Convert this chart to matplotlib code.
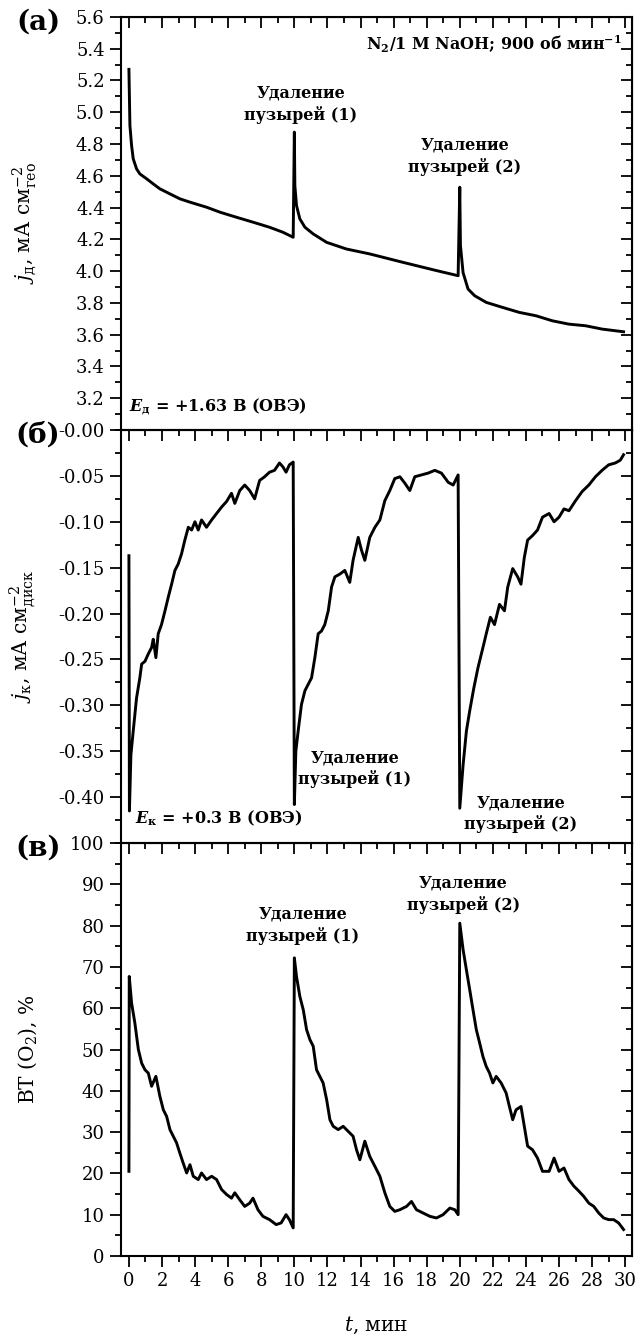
import matplotlib.pyplot as plt
from matplotlib.ticker import MultipleLocator, FormatStrFormatter
import numpy as np

plt.rcParams['font.family'] = ['DejaVu Serif']
plt.rcParams['mathtext.fontset'] = 'dejavuserif'
plt.rcParams['axes.unicode_minus'] = False

# (а) ток диска
t_a = [0.0, 0.06, 0.16, 0.26, 0.46, 0.66, 1.07, 1.47, 1.87, 2.48, 3.08, 3.69, 4.7, 5.5,
       6.5, 7.5, 8.5, 9.3, 9.93,
       10.0, 10.03, 10.13, 10.33, 10.64, 11.14, 11.95, 13.15, 14.56, 16.57, 18.6, 19.9,
       20.0, 20.04, 20.2, 20.5, 20.9, 21.6, 22.6, 23.6, 24.6, 25.6, 26.6, 27.6, 28.6, 29.9]
j_a = [5.27, 4.917, 4.791, 4.707, 4.644, 4.612, 4.581, 4.549, 4.518, 4.486, 4.455, 4.434, 4.402, 4.371,
       4.339, 4.308, 4.276, 4.245, 4.213,
       4.875, 4.539, 4.413, 4.329, 4.276, 4.234, 4.181, 4.139, 4.108, 4.055, 4.003, 3.971,
       4.528, 4.16, 3.99, 3.887, 3.845, 3.803, 3.771, 3.74, 3.719, 3.687, 3.666, 3.656, 3.635, 3.618]

# (б) ток кольца
t_b = [0.0, 0.03, 0.12, 0.26, 0.46, 0.66, 0.77, 0.97, 1.17, 1.37, 1.47, 1.63, 1.77, 1.97,
       2.18, 2.38, 2.58, 2.78, 2.98, 3.18, 3.38, 3.59, 3.79, 3.99, 4.19, 4.39, 4.69, 5.0,
       5.3, 5.6, 5.9, 6.2, 6.4, 6.7, 7.0, 7.3, 7.6, 7.9, 8.2, 8.5, 8.8, 9.1, 9.3, 9.5, 9.7, 9.93,
       10.0, 10.09, 10.23, 10.43, 10.64, 10.84, 11.04, 11.24, 11.44, 11.64, 11.84, 12.05,
       12.25, 12.45, 12.75, 13.05, 13.35, 13.55, 13.86, 14.06, 14.26, 14.56, 14.87, 15.17,
       15.47, 15.77, 16.07, 16.38, 16.68, 16.98, 17.28, 17.68, 18.09, 18.49, 18.89, 19.3, 19.6, 19.9,
       20.0, 20.2, 20.4, 20.6, 20.85, 21.1, 21.4, 21.6, 21.85, 22.1, 22.4, 22.7, 22.9, 23.2,
       23.5, 23.7, 23.9, 24.1, 24.4, 24.7, 25.0, 25.4, 25.7, 26.0, 26.3, 26.6, 27.0, 27.4,
       27.8, 28.2, 28.6, 29.0, 29.4, 29.7, 29.9]
j_b = [-0.137, -0.415, -0.354, -0.328, -0.292, -0.27, -0.255, -0.252, -0.244, -0.237, -0.228, -0.248, -0.222, -0.212,
       -0.197, -0.182, -0.168, -0.153, -0.146, -0.135, -0.12, -0.106, -0.109, -0.1, -0.109, -0.098, -0.106, -0.098,
       -0.091, -0.084, -0.078, -0.069, -0.08, -0.066, -0.06, -0.066, -0.075, -0.055, -0.051, -0.046, -0.044, -0.036, -0.04, -0.046, -0.038, -0.035,
       -0.408, -0.35, -0.328, -0.299, -0.284, -0.277, -0.27, -0.248, -0.222, -0.219, -0.212, -0.197,
       -0.171, -0.16, -0.157, -0.153, -0.166, -0.142, -0.117, -0.131, -0.142, -0.117, -0.106, -0.098,
       -0.077, -0.066, -0.053, -0.051, -0.058, -0.066, -0.051, -0.049, -0.047, -0.044, -0.047, -0.057, -0.06, -0.049,
       -0.412, -0.365, -0.328, -0.306, -0.281, -0.259, -0.237, -0.222, -0.204, -0.212, -0.19, -0.197, -0.171, -0.151,
       -0.16, -0.168, -0.139, -0.12, -0.115, -0.109, -0.095, -0.091, -0.1, -0.095, -0.086, -0.088, -0.077, -0.067,
       -0.06, -0.051, -0.044, -0.038, -0.036, -0.033, -0.027]

# (в) выход по току O2
t_c = [0.0, 0.02, 0.16, 0.36, 0.57, 0.77, 0.97, 1.17, 1.37, 1.63, 1.87, 2.08, 2.28, 2.48,
       2.68, 2.88, 3.08, 3.28, 3.49, 3.69, 3.89, 4.19, 4.39, 4.69, 5.0, 5.3, 5.6, 5.9,
       6.2, 6.4, 6.7, 7.0, 7.3, 7.5, 7.8, 8.1, 8.5, 8.9, 9.2, 9.5, 9.7, 9.93,
       10.0, 10.13, 10.33, 10.54, 10.74, 10.94, 11.14, 11.34, 11.54, 11.74, 11.95, 12.15,
       12.35, 12.65, 12.95, 13.25, 13.55, 13.76, 13.96, 14.26, 14.56, 14.87, 15.17, 15.47,
       15.77, 16.07, 16.38, 16.78, 17.08, 17.38, 17.78, 18.19, 18.59, 18.99, 19.4, 19.7, 19.9,
       20.0, 20.2, 20.4, 20.6, 20.8, 21.0, 21.2, 21.4, 21.6, 21.8, 22.0, 22.2, 22.5, 22.8,
       23.0, 23.2, 23.4, 23.7, 23.9, 24.1, 24.4, 24.7, 25.0, 25.4, 25.7, 26.0, 26.3, 26.6,
       26.9, 27.2, 27.5, 27.8, 28.1, 28.4, 28.7, 29.0, 29.3, 29.6, 29.9]
ce_c = [20.5, 67.7, 61.3, 56.4, 50.0, 46.7, 45.1, 44.3, 41.1, 43.5, 38.7, 35.4, 33.8, 30.6,
        29.0, 27.4, 24.9, 22.5, 20.1, 22.1, 19.3, 18.5, 20.1, 18.5, 19.3, 18.5, 16.1, 14.9,
        14.0, 15.3, 13.6, 12.0, 12.8, 14.0, 11.2, 9.6, 8.8, 7.6, 8.0, 10.0, 8.8, 6.8,
        72.2, 67.7, 62.9, 59.6, 54.8, 52.4, 50.8, 45.1, 43.5, 41.9, 37.9, 33.0,
        31.4, 30.6, 31.4, 30.2, 29.0, 25.7, 23.3, 27.8, 24.1, 21.7, 19.3, 15.3,
        12.0, 10.8, 11.2, 12.0, 13.2, 11.2, 10.4, 9.6, 9.2, 10.0, 11.6, 11.2, 10.0,
        80.6, 74.2, 69.3, 64.5, 59.6, 54.8, 51.6, 48.3, 45.9, 44.3, 41.9, 43.5, 41.9, 39.5,
        36.2, 33.0, 35.4, 36.2, 31.4, 26.6, 25.7, 23.7, 20.5, 20.5, 23.7, 20.5, 21.3, 18.5,
        16.9, 15.7, 14.4, 12.8, 12.0, 10.4, 9.2, 8.8, 8.8, 8.0, 6.4]

fig = plt.figure(figsize=(6.35, 13.34), dpi=100)
L, W = 0.19, 0.805
ax_a = fig.add_axes([L, 0.6777, W, 0.3096])
ax_b = fig.add_axes([L, 0.368, W, 0.3097])
ax_c = fig.add_axes([L, 0.0585, W, 0.3095])

lw = 2.1
ax_a.plot(t_a, j_a, color='black', lw=lw)
ax_b.plot(t_b, j_b, color='black', lw=lw)
ax_c.plot(t_c, ce_c, color='black', lw=lw)

for ax in (ax_a, ax_b, ax_c):
    ax.set_xlim(-0.5, 30.4)
    ax.xaxis.set_major_locator(MultipleLocator(2))
    ax.xaxis.set_minor_locator(MultipleLocator(1))
    ax.tick_params(axis='both', which='both', direction='out', width=1.3, labelsize=13,
                   top=False, right=False)
    ax.tick_params(axis='both', which='major', length=8)
    ax.tick_params(axis='both', which='minor', length=4.5)
    for s in ax.spines.values():
        s.set_linewidth(1.5)
    # верх и право - тики внутрь
    ax2 = ax.secondary_xaxis('top')
    ax2.xaxis.set_major_locator(MultipleLocator(2))
    ax2.xaxis.set_minor_locator(MultipleLocator(1))
    ax2.tick_params(which='both', direction='in', width=1.3, labeltop=False)
    ax2.tick_params(which='major', length=8)
    ax2.tick_params(which='minor', length=4.5)
    ax3 = ax.secondary_yaxis('right')
    ax3.tick_params(which='both', direction='in', width=1.3, labelright=False)
    ax3.tick_params(which='major', length=8)
    ax3.tick_params(which='minor', length=4.5)
    ax._sec = ax3

ax_a.tick_params(axis='x', labelbottom=False)
ax_b.tick_params(axis='x', labelbottom=False)

ax_a.set_ylim(3.0, 5.6)
ax_a.set_yticks(np.arange(3.2, 5.61, 0.2))
ax_a.yaxis.set_minor_locator(MultipleLocator(0.1))
ax_a.yaxis.set_major_formatter(FormatStrFormatter('%.1f'))
ax_a._sec.set_yticks(np.arange(3.0, 5.61, 0.2))
ax_a._sec.yaxis.set_minor_locator(MultipleLocator(0.1))

ax_b.set_ylim(-0.45, 0.0)
ax_b.set_yticks(np.arange(-0.40, 0.001, 0.05))
ax_b.yaxis.set_minor_locator(MultipleLocator(0.025))
ax_b.yaxis.set_major_formatter(FormatStrFormatter('%.2f'))
ax_b._sec.set_yticks(np.arange(-0.45, 0.001, 0.05))
ax_b._sec.yaxis.set_minor_locator(MultipleLocator(0.025))

ax_c.set_ylim(0, 100)
ax_c.set_yticks(np.arange(0, 101, 10))
ax_c.yaxis.set_minor_locator(MultipleLocator(5))
ax_c._sec.set_yticks(np.arange(0, 101, 10))
ax_c._sec.yaxis.set_minor_locator(MultipleLocator(5))

ax_a.set_ylabel(r'$j_{\mathrm{д}}$, мА см$^{-2}_{\mathrm{гео}}$', fontsize=14.5)
ax_b.set_ylabel(r'$j_{\mathrm{к}}$, мА см$^{-2}_{\mathrm{диск}}$', fontsize=14.5)
ax_c.set_ylabel(r'ВТ (O$_2$), %', fontsize=14.5)
for ax in (ax_a, ax_b, ax_c):
    ax.yaxis.set_label_coords(-0.16, 0.5)
ax_c.set_xlabel(r'$t$, мин', fontsize=14.5, labelpad=18)

fs = 11.5
txt = dict(fontsize=fs, fontweight='bold', ha='center', va='center', linespacing=1.3)
ax_a.text(10.4, 5.05, 'Удаление\nпузырей (1)', **txt)
ax_a.text(20.3, 4.725, 'Удаление\nпузырей (2)', **txt)
ax_a.text(0.98, 0.935, r'N$_\mathbf{2}$/1 M NaOH; 900 об мин$^{\mathbf{-1}}$', transform=ax_a.transAxes,
          fontsize=fs, fontweight='bold', ha='right', va='center')
ax_a.text(0.017, 0.056, r'$\mathbfit{E}_{\mathbf{д}}$ = +1.63 В (ОВЭ)', transform=ax_a.transAxes,
          fontsize=fs, fontweight='bold', ha='left', va='center')

ax_b.text(13.66, -0.369, 'Удаление\nпузырей (1)', **txt)
ax_b.text(23.7, -0.418, 'Удаление\nпузырей (2)', **txt)
ax_b.text(0.028, 0.06, r'$\mathbfit{E}_{\mathbf{к}}$ = +0.3 В (ОВЭ)', transform=ax_b.transAxes,
          fontsize=fs, fontweight='bold', ha='left', va='center')

ax_c.text(10.5, 80.1, 'Удаление\nпузырей (1)', **txt)
ax_c.text(20.2, 87.6, 'Удаление\nпузырей (2)', **txt)

fig.text(38 / 635, 1 - 22 / 1334, '(a)', fontsize=20, fontweight='bold', ha='center', va='center')
fig.text(38 / 635, 1 - 435 / 1334, '(б)', fontsize=20, fontweight='bold', ha='center', va='center')
fig.text(38 / 635, 1 - 848 / 1334, '(в)', fontsize=20, fontweight='bold', ha='center', va='center')

fig.savefig('out.png', dpi=100)
